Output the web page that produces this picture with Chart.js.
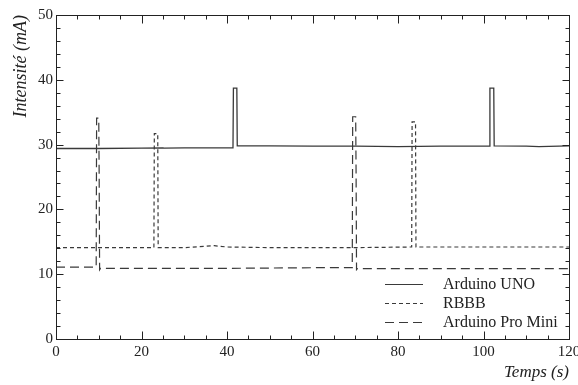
<!DOCTYPE html>
<html>
<head>
<meta charset="utf-8">
<script src="https://cdn.jsdelivr.net/npm/chart.js@4.4.1/dist/chart.umd.min.js"></script>
<style>
html, body { margin: 0; padding: 0; background: #fff; }
canvas { display: block; }
</style>
</head>
<body>
<canvas id="chartarea" width="578" height="385"></canvas>
<script>
// current draw of three boards over two minutes
var seriesNames = ['Arduino UNO', 'RBBB', 'Arduino Pro Mini'];

var unoTime    = [0, 10, 20, 25, 25.3, 30, 41.4, 41.5, 42.3, 42.4, 50, 60, 70, 80, 90, 101.4, 101.5, 102.4, 102.5, 110, 113, 120];
var unoCurrent = [29.4, 29.4, 29.45, 29.5, 29.45, 29.5, 29.5, 38.7, 38.7, 29.8, 29.8, 29.75, 29.75, 29.7, 29.75, 29.75, 38.7, 38.7, 29.8, 29.75, 29.7, 29.8];

var rbbbTime    = [0, 10, 20, 22.9, 23.0, 23.8, 23.9, 30, 37, 40, 50, 60, 70, 83.2, 83.3, 84.1, 84.2, 90, 100, 110, 120];
var rbbbCurrent = [14.1, 14.1, 14.1, 14.1, 31.7, 31.7, 14.1, 14.1, 14.4, 14.2, 14.1, 14.1, 14.1, 14.2, 33.5, 33.5, 14.2, 14.2, 14.2, 14.2, 14.2];

var proTime    = [0, 5, 9.4, 9.5, 10.0, 10.1, 10.2, 10.4, 20, 30, 40, 50, 60, 69.3, 69.4, 70.1, 70.2, 70.3, 70.5, 80, 90, 100, 110, 120];
var proCurrent = [11.1, 11.1, 11.1, 34.1, 34.1, 24.9, 10.7, 10.9, 10.9, 10.9, 10.9, 10.95, 11.0, 11.0, 34.3, 34.3, 25.2, 10.7, 10.85, 10.85, 10.85, 10.85, 10.85, 10.85];

var xTicks = [0, 20, 40, 60, 80, 100, 120];
var yTicks = [0, 10, 20, 30, 40, 50];

function pts(t, v) {
    var out = [];
    for (var i = 0; i < t.length; i++) out.push({ x: t[i], y: v[i] });
    return out;
}

var serif = "'Liberation Serif', 'DejaVu Serif', serif";
var lineColor = '#3a3a3a';

// box with inward ticks on all four sides
var frameTicks = {
    id: 'frameTicks',
    afterDraw: function (chart) {
        var ctx = chart.ctx, a = chart.chartArea;
        var x = chart.scales.x, y = chart.scales.y;
        ctx.save();
        ctx.strokeStyle = '#222';
        ctx.lineWidth = 1;
        var L = Math.round(a.left) + 0.5, R = Math.round(a.right) + 0.5;
        var T = Math.round(a.top) + 0.5, B = Math.round(a.bottom) + 0.5;
        ctx.strokeRect(L, T, R - L, B - T);
        ctx.beginPath();
        for (var v = 0; v <= 120; v += 5) {
            var px = Math.round(x.getPixelForValue(v)) + 0.5;
            var len = (v % 20 === 0) ? 8 : 4;
            ctx.moveTo(px, B); ctx.lineTo(px, B - len);
            ctx.moveTo(px, T); ctx.lineTo(px, T + len);
        }
        for (var w = 0; w <= 50; w += 2) {
            var py = Math.round(y.getPixelForValue(w)) + 0.5;
            var len2 = (w % 10 === 0) ? 7 : 4;
            ctx.moveTo(L, py); ctx.lineTo(L + len2, py);
            ctx.moveTo(R, py); ctx.lineTo(R - len2, py);
        }
        ctx.stroke();
        ctx.restore();
    }
};

// legend drawn inside the plot, lower right
var insideLegend = {
    id: 'insideLegend',
    afterDatasetsDraw: function (chart) {
        var ctx = chart.ctx, a = chart.chartArea;
        var x0 = a.right - 184, x1 = a.right - 146, tx = a.right - 126;
        var y0 = a.bottom - 55, step = 19;
        ctx.save();
        ctx.font = '16px ' + serif;
        ctx.textBaseline = 'middle';
        ctx.fillStyle = '#222';
        chart.data.datasets.forEach(function (ds, i) {
            var yy = Math.round(y0 + i * step) + 0.5;
            ctx.strokeStyle = ds.borderColor;
            ctx.lineWidth = 1.1;
            ctx.setLineDash(ds.borderDash || []);
            ctx.beginPath();
            ctx.moveTo(x0, yy);
            ctx.lineTo(x1, yy);
            ctx.stroke();
            ctx.fillText(ds.label, tx, yy);
        });
        ctx.restore();
    }
};

var ctx = document.getElementById('chartarea');

new Chart(ctx, {
    type: 'line',
    data: {
        datasets: [
            { label: seriesNames[0], data: pts(unoTime, unoCurrent), borderColor: lineColor, borderWidth: 1.3, borderDash: [] },
            { label: seriesNames[1], data: pts(rbbbTime, rbbbCurrent), borderColor: lineColor, borderWidth: 1.2, borderDash: [4, 3] },
            { label: seriesNames[2], data: pts(proTime, proCurrent), borderColor: lineColor, borderWidth: 1.2, borderDash: [9, 5] }
        ]
    },
    options: {
        responsive: false,
        animation: false,
        elements: { point: { radius: 0 }, line: { tension: 0, fill: false } },
        layout: { padding: { left: 10, top: 15, right: 9, bottom: 0 } },
        plugins: { legend: { display: false }, tooltip: { enabled: false } },
        scales: {
            x: {
                type: 'linear', min: 0, max: 120,
                grid: { display: false, drawTicks: false }, border: { display: false },
                afterBuildTicks: function (s) { s.ticks = xTicks.map(function (v) { return { value: v }; }); },
                ticks: { font: { family: serif, size: 15 }, color: '#222', padding: 4, maxRotation: 0 },
                title: { display: true, text: 'Temps (s)', align: 'end', color: '#222',
                         font: { family: serif, size: 17, style: 'italic' }, padding: { top: 0, bottom: 2 } },
                afterFit: function (s) { s.height = 46; s.paddingLeft = 0; s.paddingRight = 0; }
            },
            y: {
                min: 0, max: 50,
                grid: { display: false, drawTicks: false }, border: { display: false },
                afterBuildTicks: function (s) { s.ticks = yTicks.map(function (v) { return { value: v }; }); },
                ticks: { font: { family: serif, size: 15 }, color: '#222', padding: 3 },
                title: { display: true, text: 'Intensité (mA)', align: 'end', color: '#222',
                         font: { family: serif, size: 18, style: 'italic' }, padding: { top: 0, bottom: 0 } },
                afterFit: function (s) { s.width = 46; s.paddingTop = 0; s.paddingBottom = 0; }
            }
        }
    },
    plugins: [frameTicks, insideLegend]
});
</script>
</body>
</html>
